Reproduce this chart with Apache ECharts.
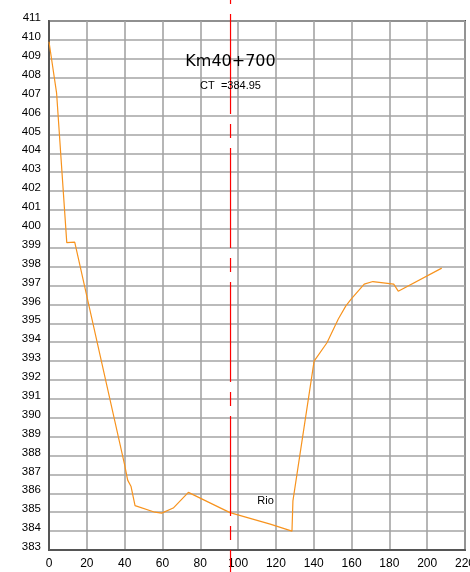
<!DOCTYPE html>
<html>
<head>
<meta charset="utf-8">
<script src="https://cdn.jsdelivr.net/npm/echarts@6/dist/echarts.min.js"></script>
<style>html,body{margin:0;padding:0;background:#fff;}#c{width:470px;height:572px;}</style>
</head>
<body>
<div id="c"></div>
<script>
// Cross-section profile data (distance m, elevation m)
const distances = [0, 4, 9.4, 13.6, 40, 41.6, 43.4, 45.5, 56, 59.6, 65.7, 73.7, 95.7, 117, 128.5, 129, 140.2, 147, 153, 157, 160, 166.7, 171.3, 182.3, 184.7, 207.7];
const elevations = [409.9, 407.2, 399.27, 399.3, 387.5, 386.7, 386.36, 385.35, 385.0, 384.95, 385.22, 386.05, 384.98, 384.37, 384.0, 385.6, 393.0, 393.97, 395.23, 395.92, 396.3, 397.07, 397.21, 397.07, 396.7, 397.92];
const xTicks = [0, 20, 40, 60, 80, 100, 120, 140, 160, 180, 200, 220];
const yTicks = [383, 411];
const centerLineX = 96;
const centerLineY = 411;
const titleText = 'Km40+700';
const subtitleText = 'CT  =384.95';
const riverLabel = 'Rio';
const riverLabelPos = [114.5, 385.6];

const chart = echarts.init(document.getElementById('c'), null, {renderer: 'canvas'});
const font = 'Liberation Sans, Arial, sans-serif';
chart.setOption({
  animation: false,
  backgroundColor: '#fff',
  grid: {left: 49, right: 5, top: 21, bottom: 22, containLabel: false, outerBoundsMode: 'none',
         show: true, borderColor: '#555', borderWidth: 2, backgroundColor: 'transparent'},
  xAxis: {
    type: 'value', min: xTicks[0], max: xTicks[xTicks.length - 1], interval: 20,
    axisLine: {show: true, lineStyle: {color: '#555', width: 2}},
    axisTick: {show: false},
    axisLabel: {color: '#000', fontSize: 12, fontFamily: font, margin: 8, showMaxLabel: true, hideOverlap: false},
    splitLine: {show: true, lineStyle: {color: '#a4a4a4', width: 1.6}}
  },
  yAxis: {
    type: 'value', min: yTicks[0], max: yTicks[1], interval: 1,
    axisLine: {show: true, lineStyle: {color: '#555', width: 2}},
    axisTick: {show: false},
    axisLabel: {color: '#000', fontSize: 11.5, fontFamily: font, margin: 8, verticalAlign: 'bottom', lineHeight: 6, hideOverlap: false},
    splitLine: {show: true, lineStyle: {color: '#a4a4a4', width: 1.6}}
  },
  series: [{
    type: 'line',
    data: distances.map((d, i) => [d, elevations[i]]),
    symbol: 'none',
    lineStyle: {color: '#f7931e', width: 1.2},
    z: 5
  }]
});

const cx = chart.convertToPixel({gridIndex: 0}, [centerLineX, centerLineY])[0];
const rp = chart.convertToPixel({gridIndex: 0}, riverLabelPos);
chart.setOption({
  graphic: [
    {type: 'line', z: 100, shape: {x1: cx, y1: 0, x2: cx, y2: 572},
     style: {stroke: '#ff0000', lineWidth: 1.2, lineDash: [100, 10, 14, 10], lineDashOffset: 120}},
    {type: 'text', z: 101, x: cx, y: 62,
     style: {text: titleText, font: '16px DejaVu Sans, sans-serif', fill: '#000', textAlign: 'center', textVerticalAlign: 'middle'}},
    {type: 'text', z: 101, x: cx, y: 86,
     style: {text: subtitleText, font: '11px Liberation Sans, Arial, sans-serif', fill: '#000', textAlign: 'center', textVerticalAlign: 'middle'}},
    {type: 'text', z: 101, x: rp[0], y: rp[1],
     style: {text: riverLabel, font: '11px Liberation Sans, Arial, sans-serif', fill: '#000', textAlign: 'center', textVerticalAlign: 'middle'}}
  ]
});
</script>
</body>
</html>
